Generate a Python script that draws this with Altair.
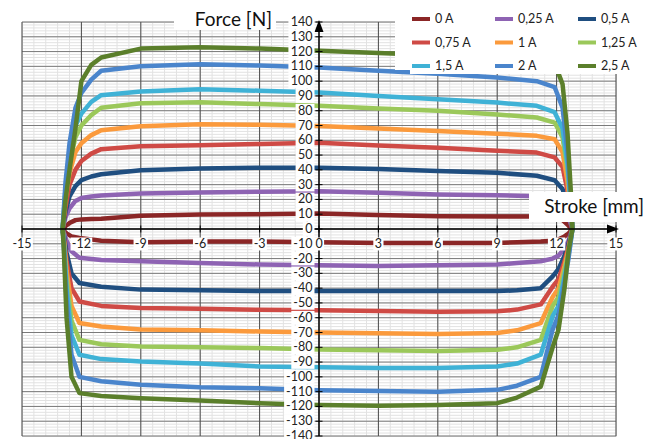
import altair as alt
import pandas as pd
import numpy as np

# ---------------- data ----------------
series = ["0 A", "0,25 A", "0,5 A", "0,75 A", "1 A", "1,25 A", "1,5 A", "2 A", "2,5 A"]
colors = ["#8b2626", "#8e63b3", "#1f4e80", "#cf4a45", "#fb9a3c",
          "#9bc85a", "#3fb2d6", "#4a85cc", "#5b7f2b"]

# stroke positions (mm) of the upper (positive force) branch, left -> right
upper_x = [-12.95, -12.8, -12.6, -12.3, -12.0, -11.5, -11.0, -9.0, -6.0, -3.0, 0.0,
           3.0, 6.0, 9.0, 11.0, 11.9, 12.3, 12.55, 12.75]
# stroke positions (mm) of the lower (negative force) branch, right -> left
lower_x = [12.8, 12.6, 12.4, 12.1, 11.8, 11.2, 10.0, 9.0, 6.0, 3.0, 0.0,
           -3.0, -6.0, -9.0, -11.0, -12.1, -12.5, -12.75, -12.9]

upper_f = {
    "0 A":    [-2, 2, 4, 6, 6.5, 6.8, 7, 9, 9.8, 10, 10.5, 9.5, 8.7, 8.5, 8.5, 8, 6, 3, 0],
    "0,25 A": [0, 8, 14, 19, 21, 22, 22.7, 24, 24.7, 25.2, 25.6, 24.5, 23.4, 22.8, 22.2, 21, 17, 10, 2],
    "0,5 A":  [0, 12, 22, 29, 33, 35.5, 37, 39.7, 41, 41.5, 41.5, 40.5, 39.2, 38, 36, 33, 27, 17, 4],
    "0,75 A": [0, 15, 30, 40, 46, 51, 54, 56, 56.6, 57.5, 58.4, 56.5, 55, 53, 51.7, 48.4, 42, 26, 6],
    "1 A":    [0, 20, 38, 52, 58, 63.5, 66.8, 69.5, 70.8, 70.5, 69.7, 68, 66.3, 64.5, 63, 60.7, 52, 32, 8],
    "1,25 A": [0, 25, 45, 62, 70, 77, 82, 85, 85.8, 84.5, 83.3, 81.5, 79.9, 77.5, 75.4, 72, 62, 40, 10],
    "1,5 A":  [0, 28, 50, 70, 78, 86, 90.5, 93, 94.6, 93.5, 92.3, 90, 87.8, 85.5, 83.3, 79, 68, 44, 11],
    "2 A":    [0, 32, 58, 82, 92, 101, 107, 110, 111.5, 110.5, 109.3, 107, 105, 102.5, 100, 96, 82, 52, 13],
    "2,5 A":  [0, 20, 40, 68, 100, 111, 116, 122, 123, 122, 120.5, 119, 117.5, 117, 116, 112, 98, 65, 18],
}
lower_f = {
    "0 A":    [0, -3, -5, -7, -8, -8.5, -9, -9.4, -9.5, -9.5, -9, -8.5, -8.5, -9, -8, -6, -5, -3, -1],
    "0,25 A": [0, -8, -13, -18, -20, -21.8, -23, -24, -24.5, -25, -24.5, -24, -23, -21.8, -21, -19.5, -15, -8, -2],
    "0,5 A":  [0, -10, -18, -27, -32, -40, -41.5, -42, -42, -42, -42, -42, -41.5, -41, -39, -36.5, -30, -16, -3],
    "0,75 A": [0, -12, -22, -34, -39, -51, -54.5, -55.7, -56, -55.5, -55, -54.6, -54, -53.4, -52, -49, -40, -22, -4],
    "1 A":    [0, -14, -25, -40, -46, -63.6, -68.5, -70.4, -71, -70.5, -70, -69.3, -68.5, -68, -66, -63.6, -52, -28, -5],
    "1,25 A": [0, -16, -28, -46, -52, -75, -80, -81.7, -82.5, -82, -81.5, -80.5, -80, -79.4, -78, -75, -62, -34, -6],
    "1,5 A":  [0, -18, -32, -52, -59, -85, -91, -93, -94, -94, -93.5, -93, -91, -89.6, -88, -85, -72, -40, -7],
    "2 A":    [0, -20, -36, -58, -68, -100, -106, -108.8, -110, -109.5, -109, -107.7, -107, -105.4, -103, -100, -85, -48, -8],
    "2,5 A":  [0, -15, -40, -68, -80, -106.6, -114, -117.8, -119, -119.5, -119, -117.8, -116, -114.5, -113, -111, -100, -60, -10],
}

x_ticks = [-15, -12, -9, -6, -3, 0, 3, 6, 9, 12, 15]
y_ticks = list(range(-140, 141, 10))
x_minor = list(np.arange(-15, 15.01, 0.6))
y_minor = list(range(-140, 141, 2))

XD = [-15, 15]
YD = [-140, 140]
FONT = "Lato"

# ---------------- tables ----------------
rows = []
for s in series:
    i = 0
    pts = list(zip(upper_x, upper_f[s])) + list(zip(lower_x, lower_f[s]))
    pts.append(pts[0])
    for (x, f) in pts:
        rows.append({"series": s, "x": x, "f": f, "i": i})
        i += 1
loops = pd.DataFrame(rows)

xs = alt.Scale(domain=XD, nice=False, zero=False)
ys = alt.Scale(domain=YD, nice=False, zero=False)


def vrules(vals, color, width):
    d = pd.DataFrame({"x": vals, "y0": YD[0], "y1": YD[1]})
    return alt.Chart(d).mark_rule(color=color, strokeWidth=width).encode(
        x=alt.X("x:Q", scale=xs, axis=None),
        y=alt.Y("y0:Q", scale=ys, axis=None), y2="y1:Q")


def hrules(vals, color, width):
    d = pd.DataFrame({"y": vals, "x0": XD[0], "x1": XD[1]})
    return alt.Chart(d).mark_rule(color=color, strokeWidth=width).encode(
        y=alt.Y("y:Q", scale=ys, axis=None),
        x=alt.X("x0:Q", scale=xs, axis=None), x2="x1:Q")


grid = [
    vrules(x_minor, "#e2e2e2", 1),
    hrules(y_minor, "#e2e2e2", 1),
    hrules(y_ticks, "#7a7a7a", 1),
    vrules(x_ticks, "#4a4a4a", 1),
]

lines = alt.Chart(loops).mark_line(strokeWidth=4.5, strokeJoin="round", strokeCap="round").encode(
    x=alt.X("x:Q", scale=xs, axis=None),
    y=alt.Y("f:Q", scale=ys, axis=None),
    order="i:Q",
    color=alt.Color("series:N", sort=series,
                    scale=alt.Scale(domain=series, range=colors),
                    legend=alt.Legend(orient="none", legendX=388, legendY=-14, columns=3,
                                      direction="horizontal",
                                      title=None, symbolType="stroke", symbolStrokeWidth=4,
                                      symbolSize=324, labelFont=FONT, labelFontSize=12.5,
                                      labelColor="#222", labelOffset=3, columnPadding=15,
                                      rowPadding=4.5, padding=0, fillColor="white")),
)

# axis lines through origin
axes_lines = [
    vrules([0], "black", 1.3),
    hrules([0], "black", 1.3),
]

# tick marks
xt = pd.DataFrame({"x": x_ticks, "y": 0, "shape": "M0,-3.5V3.5"})
yt = pd.DataFrame({"x": 0, "y": y_ticks, "shape": "M-3.5,0H3.5"})
tickmarks = [
    alt.Chart(d).mark_point(filled=False, color="black", strokeWidth=1, opacity=1).encode(
        x=alt.X("x:Q", scale=xs, axis=None), y=alt.Y("y:Q", scale=ys, axis=None),
        shape=alt.Shape("shape:N", scale=None), size=alt.value(4))
    for d in (xt, yt)
]

# arrows
arrows = pd.DataFrame({"x": [0, 15], "y": [140, 0],
                       "shape": ["M0,-2L4.5,10L-4.5,10Z", "M3,0L-9,-4.5L-9,4.5Z"]})
arrow_layer = alt.Chart(arrows).mark_point(filled=True, color="black", opacity=1).encode(
    x=alt.X("x:Q", scale=xs, axis=None), y=alt.Y("y:Q", scale=ys, axis=None),
    shape=alt.Shape("shape:N", scale=None), size=alt.value(4))


def text_w(s, digit=7.2, minus=4.3):
    return sum(minus if c == "-" else digit for c in s)


# x tick labels with white background
xl = pd.DataFrame({"x": x_ticks, "y": 0, "t": [str(v) for v in x_ticks]})
xl["shape"] = [f"M{-(text_w(t)/2+1.5)},-6.5H{text_w(t)/2+1.5}V6.5H{-(text_w(t)/2+1.5)}Z" for t in xl["t"]]
xl_bg = alt.Chart(xl).mark_point(filled=True, color="white", opacity=1, strokeWidth=0, yOffset=15).encode(
    x=alt.X("x:Q", scale=xs, axis=None), y=alt.Y("y:Q", scale=ys, axis=None),
    shape=alt.Shape("shape:N", scale=None), size=alt.value(4))
xl_txt = alt.Chart(xl).mark_text(font=FONT, fontSize=12.5, color="#222", dy=15, baseline="middle").encode(
    x=alt.X("x:Q", scale=xs, axis=None), y=alt.Y("y:Q", scale=ys, axis=None), text="t:N")

# y tick labels with white background
yl = pd.DataFrame({"x": 0, "y": y_ticks, "t": [str(v) for v in y_ticks]})
yl["shape"] = [f"M{-(text_w(t)+9)},-6.8H-4.5V6.8H{-(text_w(t)+9)}Z" for t in yl["t"]]
yl_bg = alt.Chart(yl).mark_point(filled=True, color="white", opacity=1, strokeWidth=0).encode(
    x=alt.X("x:Q", scale=xs, axis=None), y=alt.Y("y:Q", scale=ys, axis=None),
    shape=alt.Shape("shape:N", scale=None), size=alt.value(4))
yl_txt = alt.Chart(yl).mark_text(font=FONT, fontSize=12.5, color="#222", align="right", dx=-6.5,
                                 baseline="middle").encode(
    x=alt.X("x:Q", scale=xs, axis=None), y=alt.Y("y:Q", scale=ys, axis=None), text="t:N")

# axis titles
titles = pd.DataFrame({"x": [0, 15], "y": [140, 0], "t": ["Force [N]", "Stroke [mm]"],
                       "shape": ["M-145,-14H-43V8H-145Z", "M-87,-37H32V-7H-87Z"]})
title_bg = alt.Chart(titles).mark_point(filled=True, color="white", opacity=1, strokeWidth=0).encode(
    x=alt.X("x:Q", scale=xs, axis=None), y=alt.Y("y:Q", scale=ys, axis=None),
    shape=alt.Shape("shape:N", scale=None), size=alt.value(4))
t1 = alt.Chart(titles.iloc[[0]]).mark_text(font=FONT, fontSize=19, color="#111", align="right",
                                           dx=-47, dy=-2, baseline="middle").encode(
    x=alt.X("x:Q", scale=xs, axis=None), y=alt.Y("y:Q", scale=ys, axis=None), text="t:N")
t2 = alt.Chart(titles.iloc[[1]]).mark_text(font=FONT, fontSize=19, color="#111", align="right",
                                           dx=28, dy=-22, baseline="middle").encode(
    x=alt.X("x:Q", scale=xs, axis=None), y=alt.Y("y:Q", scale=ys, axis=None), text="t:N")

# white panel behind legend
leg_bg = alt.Chart(pd.DataFrame({"x": [15], "y": [140], "shape": ["M-221,-16H34V48H-221Z"]})).mark_point(
    filled=True, color="white", opacity=1, strokeWidth=0).encode(
    x=alt.X("x:Q", scale=xs, axis=None), y=alt.Y("y:Q", scale=ys, axis=None),
    shape=alt.Shape("shape:N", scale=None), size=alt.value(4))

chart = alt.layer(
    *grid, lines, *axes_lines, *tickmarks, arrow_layer,
    xl_bg, yl_bg, xl_txt, yl_txt, title_bg, t1, t2, leg_bg
).properties(
    width=594, height=414,
    autosize=alt.AutoSizeParams(type="none"),
    padding={"left": 14, "top": 14, "right": 32, "bottom": 3},
).configure_view(stroke=None).configure(background="white")

chart.save("out.html", embed_options={"renderer": "svg", "actions": False})
